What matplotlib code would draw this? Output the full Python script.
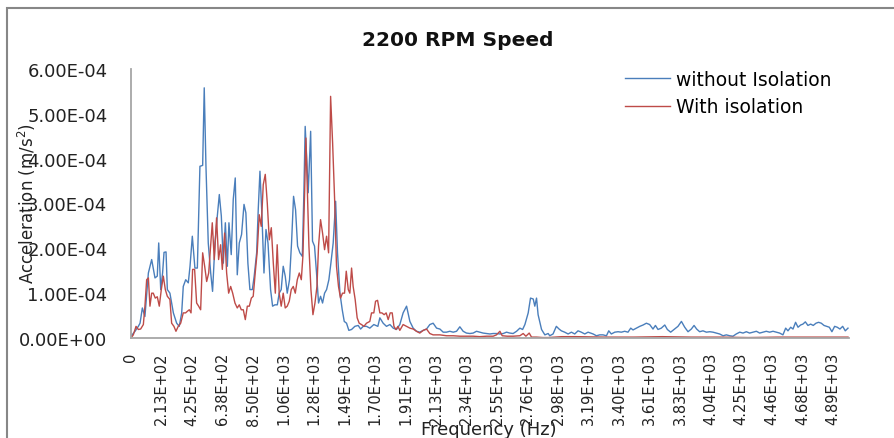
import matplotlib
matplotlib.use("Agg")
import matplotlib.pyplot as plt
from matplotlib.patches import Rectangle
import numpy as np

plt.rcParams["font.family"] = ["DejaVu Sans"]

# values, acceleration in units of 1e-4 m/s^2
scale = 1e-4

blue_freq = [0, 28, 51, 63, 79, 97, 121, 144, 167, 183, 193, 207, 220, 230, 244, 253,
             271, 295, 318, 336, 353, 364, 381, 399, 411, 427, 445, 462, 480, 499, 510,
             522, 538, 555, 568, 585, 601, 615, 629, 643, 657, 671, 682, 698, 712, 726,
             740, 754, 770, 787, 800, 814, 828, 845, 858, 875, 886, 898, 912, 926, 940,
             954, 972, 986, 1002, 1019, 1032, 1046, 1060, 1074, 1088, 1104, 1118, 1132,
             1146, 1160, 1176, 1193, 1204, 1213, 1223, 1234, 1251, 1264, 1278, 1292,
             1306, 1320, 1334, 1348, 1362, 1378, 1392, 1408, 1425, 1438, 1455, 1471,
             1485, 1501, 1517, 1536, 1559, 1582, 1599, 1617, 1640, 1663,
             1691, 1719, 1733, 1756, 1779, 1803, 1826, 1849, 1872, 1895, 1919, 1942,
             1965, 1988, 2011, 2035, 2058, 2081, 2104, 2128, 2151, 2174, 2197, 2220,
             2244, 2267, 2290, 2313, 2336, 2360, 2383, 2406, 2429, 2452, 2476, 2499,
             2522, 2545, 2569, 2592, 2615, 2638, 2661, 2685, 2708, 2727, 2743, 2766,
             2782, 2801, 2812, 2824, 2835, 2859, 2882, 2905,
             2916, 2939, 2962, 2981, 2997, 3020, 3044, 3067, 3090, 3113, 3136, 3160,
             3183, 3218, 3241, 3264, 3287, 3311, 3327, 3345, 3369, 3392, 3415, 3438,
             3461, 3480, 3496, 3519, 3543, 3566, 3589, 3612, 3635, 3652, 3670, 3693,
             3717, 3735, 3758, 3782, 3809, 3833, 3856, 3879, 3902, 3921, 3939, 3960,
             3983, 4007, 4030, 4053, 4076, 4099, 4123, 4146, 4169, 4192, 4215, 4239,
             4262, 4285, 4308, 4331, 4355, 4378, 4401, 4424, 4447, 4471, 4494, 4517,
             4540, 4559, 4575, 4594, 4610, 4628, 4645, 4663, 4679, 4696, 4714, 4733,
             4751, 4770, 4788, 4807, 4826, 4844, 4863, 4881, 4900, 4918, 4937, 4956,
             4974, 4993]
blue_acc = [0.04, 0.15, 0.26, 0.33, 0.67, 0.48, 1.45, 1.75, 1.34, 1.38, 2.12, 1.08, 1.45,
            1.91, 1.92, 1.08, 1.00, 0.56, 0.33, 0.26, 0.56, 1.15, 1.30, 1.23, 1.60, 2.27,
            1.56, 1.56, 3.83, 3.85, 5.58, 3.83, 2.12, 1.45, 1.04, 2.12, 2.72, 3.20, 2.72,
            1.67, 2.57, 1.60, 2.57, 1.86, 3.09, 3.57, 1.41, 2.12, 2.31, 2.98, 2.79, 1.67,
            1.08, 1.08, 1.38, 1.90, 2.86, 3.72, 2.72, 1.45, 2.42, 2.12, 1.08, 0.71, 0.74,
            0.74, 1.00, 1.08, 1.60, 1.38, 1.00, 1.30, 2.12, 3.16, 2.86, 2.05, 1.90, 1.82,
            3.24, 4.72, 4.05, 3.24, 4.61, 2.16, 2.05, 1.45, 0.78, 0.93, 0.78, 1.00, 1.08,
            1.30, 1.67, 2.12, 3.05, 1.90, 1.00, 0.63, 0.37, 0.33, 0.17, 0.19, 0.26, 0.28,
            0.20, 0.26, 0.26, 0.22,
            0.30, 0.26, 0.45, 0.33, 0.26, 0.30, 0.22, 0.19, 0.30, 0.56, 0.71, 0.37,
            0.22, 0.15, 0.13, 0.17, 0.20, 0.30, 0.33, 0.22, 0.20, 0.13, 0.13, 0.15,
            0.13, 0.15, 0.25, 0.15, 0.11, 0.10, 0.11, 0.15, 0.13, 0.11, 0.10, 0.09,
            0.10, 0.10, 0.09, 0.10, 0.13, 0.11, 0.10, 0.15, 0.22, 0.19, 0.30, 0.56,
            0.89, 0.87, 0.71, 0.89, 0.52, 0.19, 0.07, 0.10,
            0.05, 0.09, 0.26, 0.20, 0.16, 0.13, 0.09, 0.13, 0.09, 0.16, 0.13, 0.09,
            0.13, 0.09, 0.05, 0.07, 0.07, 0.05, 0.16, 0.09, 0.13, 0.14, 0.13, 0.15,
            0.13, 0.22, 0.18, 0.22, 0.26, 0.29, 0.33, 0.30, 0.20, 0.28, 0.19, 0.22,
            0.29, 0.19, 0.13, 0.19, 0.26, 0.37, 0.24, 0.14, 0.20, 0.28, 0.20, 0.14,
            0.16, 0.13, 0.14, 0.13, 0.11, 0.09, 0.05, 0.07, 0.05, 0.04, 0.09, 0.13,
            0.11, 0.14, 0.11, 0.13, 0.15, 0.11, 0.13, 0.15, 0.13, 0.15, 0.13, 0.11,
            0.07, 0.22, 0.16, 0.24, 0.20, 0.35, 0.24, 0.29, 0.31, 0.36, 0.28, 0.31,
            0.28, 0.33, 0.35, 0.33, 0.28, 0.26, 0.24, 0.14, 0.26, 0.24, 0.20, 0.26,
            0.16, 0.22]

red_freq = [0, 16, 35, 51, 67, 86, 97, 109, 121, 132, 144, 155, 169, 183, 197, 211, 225,
            239, 253, 271, 283, 299, 313, 329, 346, 364, 380, 394, 406, 418, 429, 443,
            457, 471, 485, 499, 513, 527, 541, 554, 566, 580, 596, 610, 624, 636, 652,
            666, 680, 694, 708, 724, 740, 754, 768, 782, 796, 810, 824, 838, 851, 865,
            879, 893, 907, 921, 935, 949, 963, 977, 991, 1005, 1018, 1032, 1046, 1060,
            1074, 1088, 1102, 1116, 1130, 1144, 1158, 1172, 1186, 1197, 1209, 1218,
            1227, 1239, 1253, 1267, 1281, 1295, 1306, 1320, 1334, 1348, 1362, 1376,
            1390, 1404, 1418, 1431, 1445, 1459, 1473, 1487, 1499, 1513, 1524, 1536,
            1547, 1561, 1575, 1589, 1605, 1622, 1640, 1663,
            1675, 1691, 1703, 1717, 1733, 1747, 1763, 1777, 1791, 1805, 1819, 1831,
            1845, 1859, 1872, 1895, 1919, 1942, 1965, 1988, 2011, 2035, 2058, 2081,
            2104, 2128, 2151, 2197, 2244, 2290, 2336, 2383, 2429, 2476, 2522, 2545,
            2569, 2585, 2620, 2661, 2708, 2731, 2750, 2773, 2789, 2824, 2870, 2905,
            3000, 3100, 3300, 3500, 3700, 3900, 4100, 4300, 4500, 4700, 4900, 4993]
red_acc = [0.00, 0.07, 0.26, 0.19, 0.20, 0.30, 0.71, 1.30, 1.34, 0.71, 1.00, 1.00, 0.89,
           0.92, 0.71, 1.08, 1.38, 1.08, 0.93, 0.86, 0.33, 0.26, 0.15, 0.26, 0.33, 0.56,
           0.56, 0.60, 0.63, 0.56, 1.53, 1.53, 0.78, 0.71, 0.63, 1.90, 1.60, 1.26, 1.45,
           2.05, 2.57, 1.75, 2.68, 1.75, 2.08, 1.53, 2.34, 1.45, 1.00, 1.15, 1.00, 0.78,
           0.67, 0.74, 0.63, 0.63, 0.41, 0.71, 0.71, 0.89, 0.93, 1.45, 1.93, 2.75, 2.49,
           3.42, 3.65, 3.01, 2.19, 2.46, 1.67, 1.00, 2.08, 1.00, 0.71, 1.00, 0.67, 0.71,
           0.82, 1.08, 1.15, 1.00, 1.30, 1.45, 1.30, 1.82, 3.24, 4.46, 3.39, 2.05, 1.08,
           0.52, 0.78, 1.15, 2.05, 2.64, 2.34, 1.97, 2.27, 1.90, 5.39, 4.35, 3.09, 1.60,
           1.15, 0.89, 1.00, 1.00, 1.49, 1.08, 1.00, 1.56, 1.15, 0.86, 0.45, 0.33, 0.30,
           0.26, 0.33, 0.37,
           0.56, 0.56, 0.82, 0.84, 0.56, 0.56, 0.52, 0.56, 0.41, 0.56, 0.56, 0.26,
           0.19, 0.26, 0.17, 0.30, 0.26, 0.22, 0.20, 0.15, 0.11, 0.17, 0.20, 0.10,
           0.07, 0.07, 0.07, 0.05, 0.05, 0.04, 0.04, 0.04, 0.03, 0.04, 0.04, 0.07,
           0.15, 0.05, 0.04, 0.04, 0.05, 0.10, 0.04, 0.11, 0.02, 0.02, 0.01, 0.01,
           0.03, 0.03, 0.02, 0.02, 0.03, 0.02, 0.02, 0.01, 0.02, 0.02, 0.02, 0.02]

tick_freq = [212.5 * k for k in range(24)]
tick_labels = ["0", "2.13E+02", "4.25E+02", "6.38E+02", "8.50E+02", "1.06E+03",
               "1.28E+03", "1.49E+03", "1.70E+03", "1.91E+03", "2.13E+03", "2.34E+03",
               "2.55E+03", "2.76E+03", "2.98E+03", "3.19E+03", "3.40E+03", "3.61E+03",
               "3.83E+03", "4.04E+03", "4.25E+03", "4.46E+03", "4.68E+03", "4.89E+03"]
y_ticks = [0, 1e-4, 2e-4, 3e-4, 4e-4, 5e-4, 6e-4]

fig = plt.figure(figsize=(8.94, 4.39), dpi=100)
ax = fig.add_axes([131 / 894, 100 / 439, 718 / 894, 269 / 439])

ax.plot(blue_freq, np.array(blue_acc) * scale, color="#4a7ebb", lw=1.0,
        label="without Isolation")
ax.plot(red_freq, np.array(red_acc) * scale, color="#be4b48", lw=1.0,
        label="With isolation")

ax.set_xlim(0, 5000)
ax.set_ylim(0, 6e-4)
ax.set_yticks(y_ticks)
ax.set_yticklabels(["{:.2E}".format(v) for v in y_ticks], fontsize=13, color="#222222")
ax.set_xticks(tick_freq)
ax.set_xticklabels(tick_labels, rotation=90, fontsize=10.5, color="#222222")
ax.tick_params(axis="y", length=0, pad=17)
ax.tick_params(axis="x", length=0, pad=10)

for side in ["top", "right"]:
    ax.spines[side].set_visible(False)
for side in ["left", "bottom"]:
    ax.spines[side].set_color("#a6a6a6")
    ax.spines[side].set_linewidth(1.3)

fig.text(458 / 894, 1 - 40 / 439, "2200 RPM Speed", ha="center", va="center",
         fontsize=14.5, fontweight="bold", color="#111111")
fig.text(27 / 894, 1 - 204 / 439, "Acceleration (m/s$^2$)", rotation=90,
         ha="center", va="center", fontsize=12, color="#222222")
fig.text(489 / 894, 1 - 430 / 439, "Frequency (Hz)", ha="center", va="center",
         fontsize=13, color="#222222")

ax.legend(loc="upper left", bbox_to_anchor=(625 / 894, 1 - 71 / 439),
          bbox_transform=fig.transFigure, frameon=False, fontsize=13.5,
          handlelength=2.4, handletextpad=0.32, labelspacing=0.44, borderpad=0,
          borderaxespad=0)

fig.add_artist(Rectangle((7 / 894, -0.1), 1.2, 1 - 9 / 439 + 0.1,
                         transform=fig.transFigure, fill=False,
                         ec="#878787", lw=1.5))

fig.savefig("out.png", dpi=100)
